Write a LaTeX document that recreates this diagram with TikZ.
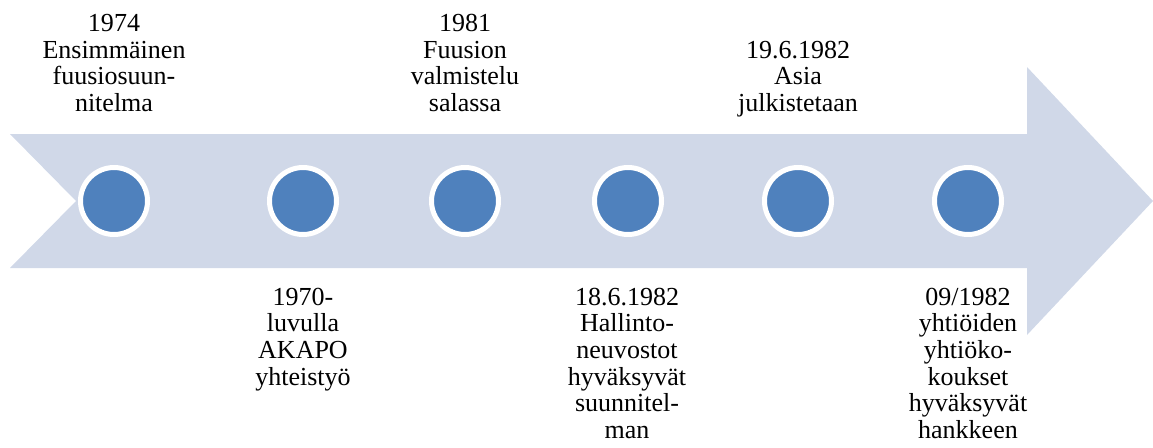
\documentclass[tikz,border=0pt]{standalone}
\usepackage{fontspec}
\setmainfont{Liberation Serif}
\definecolor{bandfill}{HTML}{D0D8E8}
\definecolor{dotfill}{HTML}{4F81BD}
\begin{document}
\begin{tikzpicture}[x=1pt,y=-1pt,
  dot/.style={circle,minimum size=67pt,inner sep=0pt,fill=dotfill,draw=white,line width=5pt},
  lbl/.style={align=center,inner sep=0pt,font={\fontsize{26}{26.7}\selectfont}},
  above band/.style={lbl,anchor=south},
  below band/.style={lbl,anchor=north}]
\useasboundingbox (0,0) rectangle (1153,447);
% notched arrow band
\fill[bandfill] (10,134) -- (1027,134) -- (1027,67) -- (1153,201) -- (1027,335)
  -- (1027,268) -- (10,268) -- (76,201) -- cycle;
% milestones
\node[dot] (d1) at (114,201) {};
\node[dot] (d2) at (303,201) {};
\node[dot] (d3) at (465,201) {};
\node[dot] (d4) at (628,201) {};
\node[dot] (d5) at (798,201) {};
\node[dot] (d6) at (968,201) {};
% labels above the band: last baseline at y=111.7 (strut depth 8.01)
\node[above band] (t1) at (114,119.7) {\strut 1974\\\strut Ensimmäinen\\\strut fuusiosuun-\\\strut nitelma};
\node[above band] (t3) at (465,119.7) {\strut 1981\\\strut Fuusion\\\strut valmistelu\\\strut salassa};
\node[above band] (t5) at (798,119.7) {\strut 19.6.1982\\\strut Asia\\\strut julkistetaan};
% labels below the band: first baseline at y=305 (strut height 18.69)
\node[below band] (t2) at (303,286.3) {\strut 1970-\\\strut luvulla\\\strut AKAPO\\\strut yhteistyö};
\node[below band] (t4) at (627,286.3) {\strut 18.6.1982\\\strut Hallinto-\\\strut neuvostot\\\strut hyväksyvät\\\strut suunnitel-\\\strut man};
\node[below band] (t6) at (968,286.3) {\strut 09/1982\\\strut yhtiöiden\\\strut yhtiöko-\\\strut koukset\\\strut hyväksyvät\\\strut hankkeen};
\end{tikzpicture}
\end{document}
